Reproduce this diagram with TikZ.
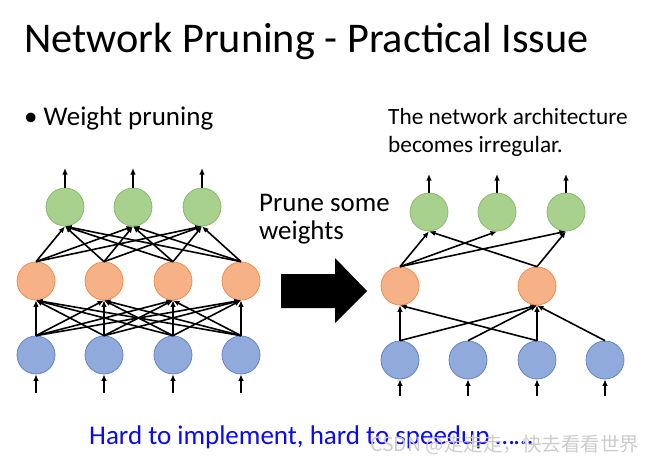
\documentclass[tikz,border=0pt]{standalone}
\usepackage{fontspec}
\setmainfont{Carlito}
\newfontfamily\cjkfont{Noto Sans CJK SC}
\usetikzlibrary{arrows.meta}
\definecolor{gfill}{RGB}{169,209,142}
\definecolor{gline}{RGB}{130,180,100}
\definecolor{ofill}{RGB}{246,178,134}
\definecolor{oline}{RGB}{237,135,70}
\definecolor{bfill}{RGB}{145,170,220}
\definecolor{bline}{RGB}{90,125,195}
\definecolor{hintblue}{RGB}{10,10,240}

\begin{document}
\begin{tikzpicture}[x=1pt, y=-1pt,
    neuron/.style = {circle, fill=#1fill, draw=#1line, line width=0.7pt,
                minimum size=38pt, inner sep=0pt},
    wire/.style = {-{Latex[length=6.5pt,width=5.5pt]}, line width=1.6pt},
    txt/.style = {anchor=base west, inner sep=0pt, align=left}
                    ]
    \useasboundingbox (0,0) rectangle (654,463);
    % texts
    \node[txt, font=\fontsize{42.3}{42}\selectfont] at (24,52) (title) {Network Pruning - Practical Issue};
    \node[txt, font=\fontsize{27}{27}\selectfont] at (24,125) (bullet) {\textbullet\ Weight pruning};
    \node[txt, font=\fontsize{23.3}{28}\selectfont] at (388,152) (irreg) {The network architecture\\becomes irregular.};
    \node[txt, font=\fontsize{26.9}{28}\selectfont] at (259,239) (prune) {Prune some\\weights};
    \node[txt, font=\fontsize{27}{27}\selectfont, text=hintblue] at (89,444) (hard) {Hard to implement, hard to speedup \dots\dots};
    \node[txt, font=\fontsize{19.5}{19.5}\selectfont\cjkfont, text=black!20] at (370,451) (mark) {CSDN @走走走，快去看看世界};
    % left network
    \foreach \x/\v in {65/lo1, 133/lo2, 202/lo3}
        \node[neuron=g] at (\x,207) (\v) {};
    \foreach \x/\v in {36/lh1, 104/lh2, 173/lh3, 241/lh4}
        \node[neuron=o] at (\x,281) (\v) {};
    \foreach \x/\v in {36/li1, 104/li2, 173/li3, 241/li4}
        \node[neuron=b] at (\x,355) (\v) {};
    \foreach \h in {lh1, lh2, lh3, lh4}
        \foreach \o in {lo1, lo2, lo3}
            \draw[wire] (\h.north) -- (\o.south);
    \foreach \i in {li1, li2, li3, li4}
        \foreach \h in {lh1, lh2, lh3, lh4}
            \draw[wire] (\i.north) -- (\h.south);
    \foreach \x/\v in {65/lo1, 133/lo2, 202/lo3} {
        \coordinate (\v out) at (\x,168);
        \draw[wire] (\v.north) -- (\v out);
    }
    \foreach \x/\v in {36/li1, 104/li2, 173/li3, 241/li4} {
        \coordinate (\v in) at (\x,393);
        \draw[wire] (\v in) -- (\v.south);
    }
    % the big arrow
    \fill (281,274) -- (335,274) -- (335,258) -- (367,291) -- (335,323)
        -- (335,308) -- (281,308) -- cycle;
    % right network
    \foreach \x/\v in {429/ro1, 497/ro2, 566/ro3}
        \node[neuron=g] at (\x,212) (\v) {};
    \foreach \x/\v in {400/rh1, 537/rh2}
        \node[neuron=o] at (\x,286) (\v) {};
    \foreach \x/\v in {400/ri1, 468/ri2, 537/ri3, 605/ri4}
        \node[neuron=b] at (\x,360) (\v) {};
    \draw[wire] (rh1.north) -- (ro1.south);
    \draw[wire] (rh1.north) -- (ro2.south);
    \draw[wire] (rh1.north) -- (ro3.south);
    \draw[wire] (rh2.north) -- (ro1.south);
    \draw[wire] (rh2.north) -- (ro3.south);
    \draw[wire] (ri1.north) -- (rh1.south);
    \draw[wire] (ri1.north) -- (rh2.south);
    \draw[wire] (ri2.north) -- (rh2.south);
    \draw[wire] (ri3.north) -- (rh1.south);
    \draw[wire] (ri3.north) -- (rh2.south);
    \draw[wire] (ri4.north) -- (rh2.south);
    \foreach \x/\v in {429/ro1, 497/ro2, 566/ro3} {
        \coordinate (\v out) at (\x,174);
        \draw[wire] (\v.north) -- (\v out);
    }
    \foreach \x/\v in {400/ri1, 468/ri2, 537/ri3, 605/ri4} {
        \coordinate (\v in) at (\x,396);
        \draw[wire] (\v in) -- (\v.south);
    }
\end{tikzpicture}
\end{document}
